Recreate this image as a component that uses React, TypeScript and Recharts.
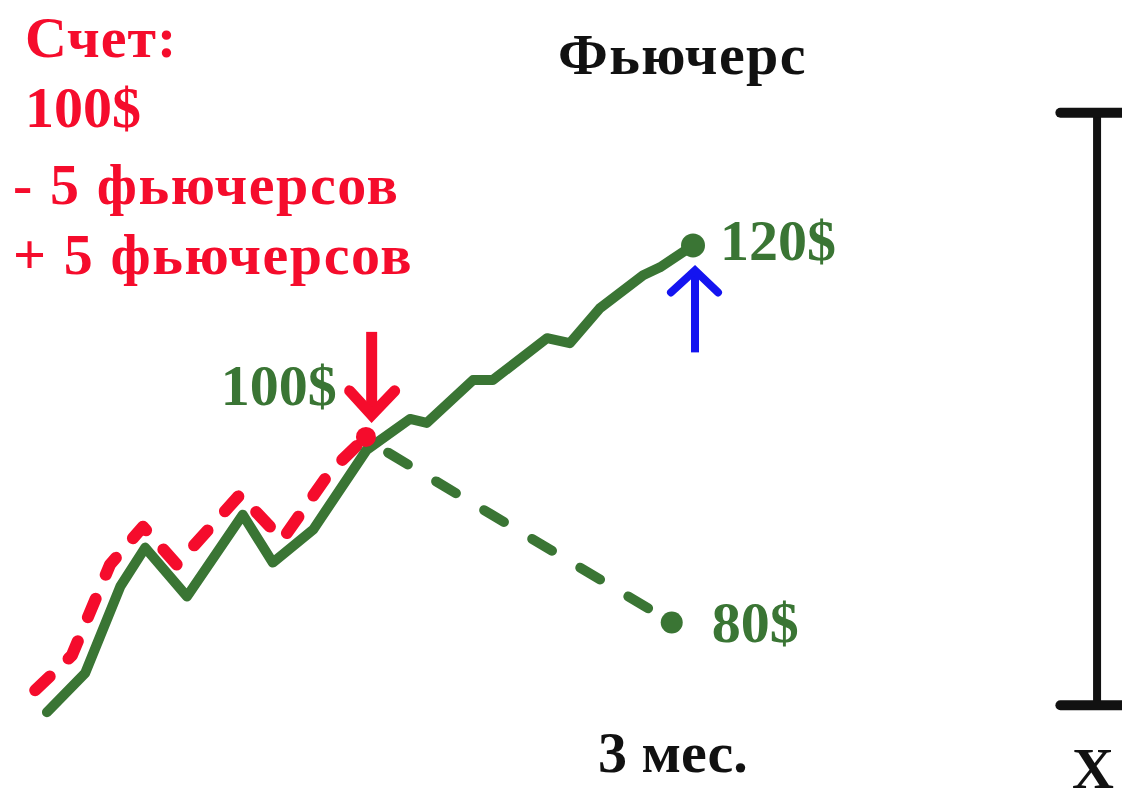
import { LineChart, Line, XAxis, YAxis, ReferenceDot, ReferenceLine } from "recharts";

// x = trading days, y = futures price in $
const mainDays = [1.4, 6.6, 11.4, 14.8, 20.5, 28.1, 32.2, 37.7, 45, 50.9, 53.2, 59.5, 62.2, 69.6, 72.7, 76.8, 82.7, 85, 89.5];
const mainPrice = [73.6, 77.5, 86.2, 90.1, 85.2, 93.4, 88.6, 91.9, 99.9, 103, 102.6, 106.9, 106.9, 111.1, 110.6, 114.1, 117.4, 118.2, 120.4];

const hedgeDays = [-0.2, 4.8, 10, 14.5, 19.1, 27.7, 33.5, 40, 44.9];
const hedgePrice = [75.8, 79.3, 88.4, 92.2, 88.4, 95.4, 90.9, 97.7, 101.2];

const dropDays = [45.7, 86.6];
const dropPrice = [100.6, 82.6];

// price range bar on the right
const rangeDay = 144.6;
const rangeCapDays = [139.6, 152];
const rangePrice = [133.7, 74.3];

const accountLines = ["Счет:", "100$", "- 5 фьючерсов", "+ 5 фьючерсов"];
const priceLabels = ["100$", "120$", "80$"];

const GREEN = "#3a7534";
const RED = "#f50c2c";
const BLUE = "#1414f0";
const INK = "#111111";
const SERIF = '"Liberation Serif", "Times New Roman", serif';
const FS = 58;

const toRows = (xs: number[], ys: number[]) => xs.map((day, i) => ({ day, price: ys[i] }));

function Caption({
  text,
  left,
  baseline,
  color,
  spacing = 0,
}: {
  text: string;
  left: number;
  baseline: number;
  color: string;
  spacing?: number;
}) {
  return (
    <div
      style={{
        position: "absolute",
        left,
        top: baseline - 49,
        fontSize: FS,
        lineHeight: 1,
        fontWeight: 700,
        letterSpacing: spacing,
        color,
        whiteSpace: "nowrap",
      }}
    >
      {text}
    </div>
  );
}

export default function App() {
  const main = toRows(mainDays, mainPrice);
  const hedge = toRows(hedgeDays, hedgePrice);
  const drop = toRows(dropDays, dropPrice);
  const last = main.length - 1;

  return (
    <div
      style={{
        position: "absolute",
        left: 0,
        top: 0,
        width: 1122,
        height: 798,
        background: "#fff",
        overflow: "hidden",
        fontFamily: SERIF,
      }}
    >
      <LineChart width={1122} height={798} margin={{ top: 0, right: 0, bottom: 0, left: 0 }}>
        <XAxis type="number" dataKey="day" domain={[-5, 148]} hide allowDataOverflow />
        <YAxis type="number" dataKey="price" domain={[65, 145]} hide allowDataOverflow />

        {/* hedged account (red, dashed) */}
        <Line
          data={hedge}
          dataKey="price"
          type="linear"
          stroke={RED}
          strokeWidth={12}
          strokeDasharray="20 26"
          strokeLinecap="round"
          strokeLinejoin="round"
          dot={false}
          activeDot={false}
          isAnimationActive={false}
        />
        <ReferenceDot
          x={hedgeDays[hedgeDays.length - 1]}
          y={hedgePrice[hedgePrice.length - 1]}
          r={10}
          fill={RED}
          stroke="none"
          ifOverflow="visible"
        />

        {/* alternative path down to 80$ */}
        <Line
          data={drop}
          dataKey="price"
          type="linear"
          stroke={GREEN}
          strokeWidth={10}
          strokeDasharray="23 33"
          strokeDashoffset={37}
          strokeLinecap="round"
          dot={false}
          activeDot={false}
          isAnimationActive={false}
        />

        {/* futures price */}
        <Line
          data={main}
          dataKey="price"
          type="linear"
          stroke={GREEN}
          strokeWidth={10}
          strokeLinecap="round"
          strokeLinejoin="round"
          dot={false}
          activeDot={false}
          isAnimationActive={false}
        />

        {/* 100$ entry point with red arrow */}
        <ReferenceDot
          x={mainDays[8]}
          y={mainPrice[8]}
          r={1}
          ifOverflow="visible"
          shape={(p: any) => (
            <g>
              <line x1={p.cx + 5} y1={p.cy - 118} x2={p.cx + 5} y2={p.cy - 38} stroke={RED} strokeWidth={11} />
              <polyline
                points={`${p.cx - 17},${p.cy - 59} ${p.cx + 5},${p.cy - 35} ${p.cx + 28},${p.cy - 59}`}
                fill="none"
                stroke={RED}
                strokeWidth={11}
                strokeLinecap="round"
                strokeLinejoin="miter"
              />
              <text
                x={p.cx - 30}
                y={p.cy - 45}
                textAnchor="end"
                fontFamily={SERIF}
                fontWeight={700}
                fontSize={FS}
                fill={GREEN}
              >
                {priceLabels[0]}
              </text>
            </g>
          )}
        />

        {/* 120$ end with blue arrow */}
        <ReferenceDot
          x={mainDays[last]}
          y={mainPrice[last]}
          r={12}
          ifOverflow="visible"
          shape={(p: any) => (
            <g>
              <circle cx={p.cx} cy={p.cy} r={12} fill={GREEN} />
              <line x1={p.cx + 2} y1={p.cy + 30} x2={p.cx + 2} y2={p.cy + 107} stroke={BLUE} strokeWidth={8} />
              <polyline
                points={`${p.cx - 22},${p.cy + 47} ${p.cx + 2},${p.cy + 25} ${p.cx + 25},${p.cy + 47}`}
                fill="none"
                stroke={BLUE}
                strokeWidth={8}
                strokeLinecap="round"
              />
              <text x={p.cx + 27} y={p.cy + 15} fontFamily={SERIF} fontWeight={700} fontSize={FS} fill={GREEN}>
                {priceLabels[1]}
              </text>
            </g>
          )}
        />

        {/* 80$ end */}
        <ReferenceDot
          x={dropDays[1]}
          y={dropPrice[1]}
          r={11}
          ifOverflow="visible"
          shape={(p: any) => (
            <g>
              <circle cx={p.cx} cy={p.cy} r={11} fill={GREEN} />
              <text x={p.cx + 40} y={p.cy + 20} fontFamily={SERIF} fontWeight={700} fontSize={FS} fill={GREEN}>
                {priceLabels[2]}
              </text>
            </g>
          )}
        />

        {/* range bar */}
        <ReferenceLine
          segment={[
            { x: rangeDay, y: rangePrice[0] },
            { x: rangeDay, y: rangePrice[1] },
          ]}
          stroke={INK}
          strokeWidth={8}
          ifOverflow="visible"
        />
        {rangePrice.map((v) => (
          <ReferenceLine
            key={v}
            segment={[
              { x: rangeCapDays[0], y: v },
              { x: rangeCapDays[1], y: v },
            ]}
            stroke={INK}
            strokeWidth={10}
            strokeLinecap="round"
            ifOverflow="visible"
          />
        ))}
      </LineChart>

      <Caption text={accountLines[0]} left={25} baseline={58} color={RED} spacing={1} />
      <Caption text={accountLines[1]} left={25} baseline={128} color={RED} />
      <Caption text={accountLines[2]} left={13} baseline={205} color={RED} spacing={1.6} />
      <Caption text={accountLines[3]} left={13} baseline={275} color={RED} spacing={1.6} />
      <Caption text="Фьючерс" left={558} baseline={75} color={INK} spacing={1.4} />
      <Caption text="3 мес." left={598} baseline={773} color={INK} />
      <Caption text="X" left={1072} baseline={789} color={INK} />
    </div>
  );
}
